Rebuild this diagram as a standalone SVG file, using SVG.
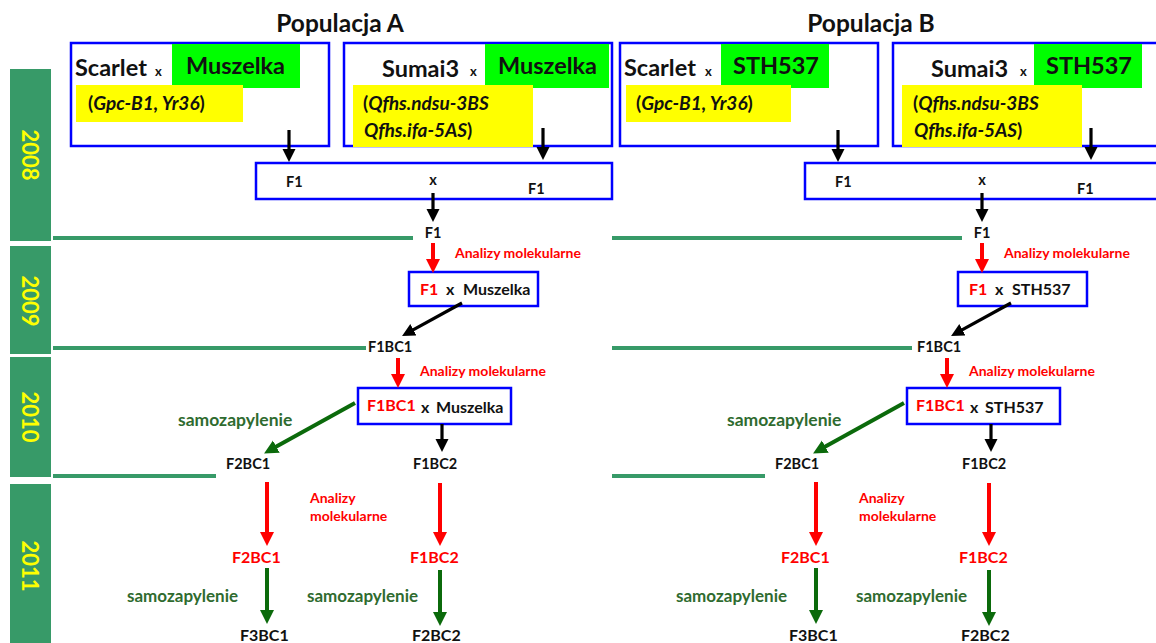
<svg xmlns="http://www.w3.org/2000/svg" width="1156" height="643" viewBox="0 0 1156 643">
<style>
text{font-family:"Lato","Liberation Sans",sans-serif;font-weight:bold;fill:#111}
.title{font-size:24.5px}
.big{font-size:23.5px}
.sx{font-size:13px}
.gene{font-size:19px;font-style:normal}
.gene tspan.i{font-style:italic}
.lbl{font-size:14.5px}
.mid{font-size:16px}
.red{fill:#ff0000}
.an{font-size:14px;fill:#ff0000}
.an2{font-size:14px;fill:#ff0000}
.sam{font-size:17.5px;fill:#2f6b2f}
.sam2{font-size:17px;fill:#2f6b2f}
.lbl16{font-size:16px}
.year{font-size:22px;fill:#ffff00;text-anchor:middle;dominant-baseline:central}
.box{fill:none;stroke:#0000ff;stroke-width:2.5}
.grn{fill:#00ff00}
.yel{fill:#ffff00}
.bar{fill:#379a68}
.hl{stroke:#379a68;stroke-width:4}
.ab{stroke:#000;stroke-width:3.2;marker-end:url(#hb)}
.ar{stroke:#ff0000;stroke-width:4;marker-end:url(#hr)}
.ag{stroke:#0b6a0b;stroke-width:4;marker-end:url(#hg)}
</style>
<defs>
<marker id="hb" markerUnits="userSpaceOnUse" markerWidth="14" markerHeight="14" refX="3" refY="6.5" orient="auto"><path d="M0,0 L13,6.5 L0,13 z" fill="#000"/></marker>
<marker id="hr" markerUnits="userSpaceOnUse" markerWidth="15" markerHeight="15" refX="3" refY="7" orient="auto"><path d="M0,0 L14,7 L0,14 z" fill="#ff0000"/></marker>
<marker id="hg" markerUnits="userSpaceOnUse" markerWidth="15" markerHeight="15" refX="3" refY="7" orient="auto"><path d="M0,0 L14,7 L0,14 z" fill="#0b6a0b"/></marker>
</defs>
<rect width="1156" height="643" fill="#ffffff"/>

<g id="years">
<rect class="bar" x="10" y="69" width="41" height="172"/>
<rect class="bar" x="10" y="246" width="41" height="108"/>
<rect class="bar" x="10" y="357" width="41" height="120"/>
<rect class="bar" x="10" y="484" width="41" height="159"/>
<text class="year" transform="translate(30,155) rotate(90)">2008</text>
<text class="year" transform="translate(30,301) rotate(90)">2009</text>
<text class="year" transform="translate(30,417) rotate(90)">2010</text>
<text class="year" transform="translate(30,566) rotate(90)">2011</text>
</g>

<g id="year-lines">
<line class="hl" x1="53" y1="238" x2="413" y2="238"/>
<line class="hl" x1="612" y1="238" x2="962" y2="238"/>
<line class="hl" x1="53" y1="348" x2="366" y2="348"/>
<line class="hl" x1="612" y1="348" x2="912" y2="348"/>
<line class="hl" x1="53" y1="476" x2="216" y2="476"/>
<line class="hl" x1="612" y1="476" x2="765" y2="476"/>
</g>

<g id="titles">
<text class="title" x="340" y="32" text-anchor="middle">Populacja A</text>
<text class="title" x="871" y="32" text-anchor="middle">Populacja B</text>
</g>

<g id="parentA1">
<rect class="box" x="71" y="43" width="258" height="103"/>
<rect class="grn" x="172" y="44" width="128" height="44"/>
<rect class="yel" x="76" y="85" width="167" height="37"/>
<text class="big" x="75" y="76">Scarlet</text>
<text class="sx" x="155" y="76">x</text>
<text class="big" x="186" y="74">Muszelka</text>
<text class="gene" x="88" y="110">(<tspan class="i">Gpc-B1, Yr36</tspan>)</text>
</g>

<g id="parentA2">
<rect class="box" x="344" y="43" width="268" height="103"/>
<rect class="grn" x="485" y="44" width="124" height="44"/>
<rect class="yel" x="353" y="85" width="180" height="62"/>
<text class="big" x="382" y="77">Sumai3</text>
<text class="sx" x="470" y="76">x</text>
<text class="big" x="498" y="74">Muszelka</text>
<text class="gene" x="363" y="110">(<tspan class="i">Qfhs.ndsu-3BS</tspan></text>
<text class="gene" x="364" y="137"><tspan class="i">Qfhs.ifa-5AS</tspan>)</text>
</g>

<g id="parentB1">
<rect class="box" x="620" y="43" width="258" height="103"/>
<rect class="grn" x="721" y="44" width="108" height="44"/>
<rect class="yel" x="626" y="85" width="165" height="37"/>
<text class="big" x="624" y="76">Scarlet</text>
<text class="sx" x="705" y="76">x</text>
<text class="big" x="733" y="74">STH537</text>
<text class="gene" x="636" y="110">(<tspan class="i">Gpc-B1, Yr36</tspan>)</text>
</g>

<g id="parentB2">
<rect class="box" x="893" y="43" width="275" height="103"/>
<rect class="grn" x="1034" y="44" width="108" height="44"/>
<rect class="yel" x="902" y="85" width="180" height="62"/>
<text class="big" x="931" y="77">Sumai3</text>
<text class="sx" x="1020" y="76">x</text>
<text class="big" x="1046" y="74">STH537</text>
<text class="gene" x="913" y="110">(<tspan class="i">Qfhs.ndsu-3BS</tspan></text>
<text class="gene" x="914" y="137"><tspan class="i">Qfhs.ifa-5AS</tspan>)</text>
</g>

<g id="crossA">
<rect class="box" x="256" y="163" width="356" height="36"/>
<text class="lbl" x="286" y="187">F1</text>
<text class="lbl" x="433" y="185" text-anchor="middle">x</text>
<text class="lbl" x="528" y="194">F1</text>
</g>
<g id="crossB">
<rect class="box" x="805" y="163" width="360" height="36"/>
<text class="lbl" x="835" y="187">F1</text>
<text class="lbl" x="982" y="185" text-anchor="middle">x</text>
<text class="lbl" x="1077" y="194">F1</text>
</g>

<g id="nodesA">
<text class="lbl" x="433" y="238" text-anchor="middle">F1</text>
<rect class="box" x="409" y="272" width="129" height="34"/>
<text class="mid" x="420" y="295"><tspan class="red">F1</tspan></text>
<text class="mid" x="446" y="295">x</text>
<text class="mid" x="463" y="295">Muszelka</text>
<text class="lbl" x="368" y="352">F1BC1</text>
<rect class="box" x="358" y="388" width="153" height="36"/>
<text class="mid" x="367" y="411"><tspan class="red">F1BC1</tspan></text>
<text class="mid" x="421" y="413">x</text>
<text class="mid" x="436" y="413">Muszelka</text>
<text class="lbl" x="226" y="469">F2BC1</text>
<text class="lbl" x="413" y="469">F1BC2</text>
<text class="lbl16 red" x="232" y="563">F2BC1</text>
<text class="lbl16 red" x="410" y="563">F1BC2</text>
<text class="mid" x="240" y="641">F3BC1</text>
<text class="mid" x="412" y="641">F2BC2</text>
</g>

<g id="nodesB">
<text class="lbl" x="982" y="238" text-anchor="middle">F1</text>
<rect class="box" x="958" y="272" width="129" height="34"/>
<text class="mid" x="969" y="295"><tspan class="red">F1</tspan></text>
<text class="mid" x="995" y="295">x</text>
<text class="mid" x="1012" y="295">STH537</text>
<text class="lbl" x="917" y="352">F1BC1</text>
<rect class="box" x="907" y="388" width="153" height="36"/>
<text class="mid" x="916" y="411"><tspan class="red">F1BC1</tspan></text>
<text class="mid" x="970" y="413">x</text>
<text class="mid" x="985" y="413">STH537</text>
<text class="lbl" x="775" y="469">F2BC1</text>
<text class="lbl" x="962" y="469">F1BC2</text>
<text class="lbl16 red" x="781" y="563">F2BC1</text>
<text class="lbl16 red" x="959" y="563">F1BC2</text>
<text class="mid" x="789" y="641">F3BC1</text>
<text class="mid" x="961" y="641">F2BC2</text>
</g>

<g id="edge-labels">
<text class="an" x="455" y="258">Analizy molekularne</text>
<text class="an" x="420" y="376">Analizy molekularne</text>
<text class="sam" x="178" y="426">samozapylenie</text>
<text class="an2" x="310" y="503">Analizy</text>
<text class="an2" x="310" y="521">molekularne</text>
<text class="sam2" x="127" y="602">samozapylenie</text>
<text class="sam2" x="307" y="602">samozapylenie</text>
<text class="an" x="1004" y="258">Analizy molekularne</text>
<text class="an" x="969" y="376">Analizy molekularne</text>
<text class="sam" x="727" y="426">samozapylenie</text>
<text class="an2" x="859" y="503">Analizy</text>
<text class="an2" x="859" y="521">molekularne</text>
<text class="sam2" x="676" y="602">samozapylenie</text>
<text class="sam2" x="856" y="602">samozapylenie</text>
</g>

<g id="connectors">
<line class="ab" x1="289" y1="130" x2="289" y2="152"/>
<line class="ab" x1="543" y1="128" x2="543" y2="150"/>
<line class="ab" x1="433" y1="193" x2="433" y2="212"/>
<line class="ar" x1="433" y1="243" x2="433" y2="262"/>
<line class="ab" x1="462" y1="303" x2="410.8" y2="331.2"/>
<line class="ar" x1="398" y1="358" x2="398" y2="377"/>
<line class="ag" x1="355" y1="403" x2="273.7" y2="448.1"/>
<line class="ab" x1="442" y1="424" x2="442" y2="442"/>
<line class="ar" x1="267" y1="482" x2="267" y2="535"/>
<line class="ar" x1="440" y1="483" x2="440" y2="535"/>
<line class="ag" x1="267" y1="568" x2="267" y2="613"/>
<line class="ag" x1="440" y1="570" x2="440" y2="615"/>

<line class="ab" x1="838" y1="130" x2="838" y2="152"/>
<line class="ab" x1="1091" y1="128" x2="1091" y2="150"/>
<line class="ab" x1="982" y1="193" x2="982" y2="212"/>
<line class="ar" x1="982" y1="243" x2="982" y2="262"/>
<line class="ab" x1="1011" y1="303" x2="959.8" y2="331.2"/>
<line class="ar" x1="947" y1="358" x2="947" y2="377"/>
<line class="ag" x1="904" y1="403" x2="822.7" y2="448.1"/>
<line class="ab" x1="991" y1="424" x2="991" y2="442"/>
<line class="ar" x1="816" y1="482" x2="816" y2="535"/>
<line class="ar" x1="989" y1="483" x2="989" y2="535"/>
<line class="ag" x1="816" y1="568" x2="816" y2="613"/>
<line class="ag" x1="989" y1="570" x2="989" y2="615"/>
</g>
</svg>
